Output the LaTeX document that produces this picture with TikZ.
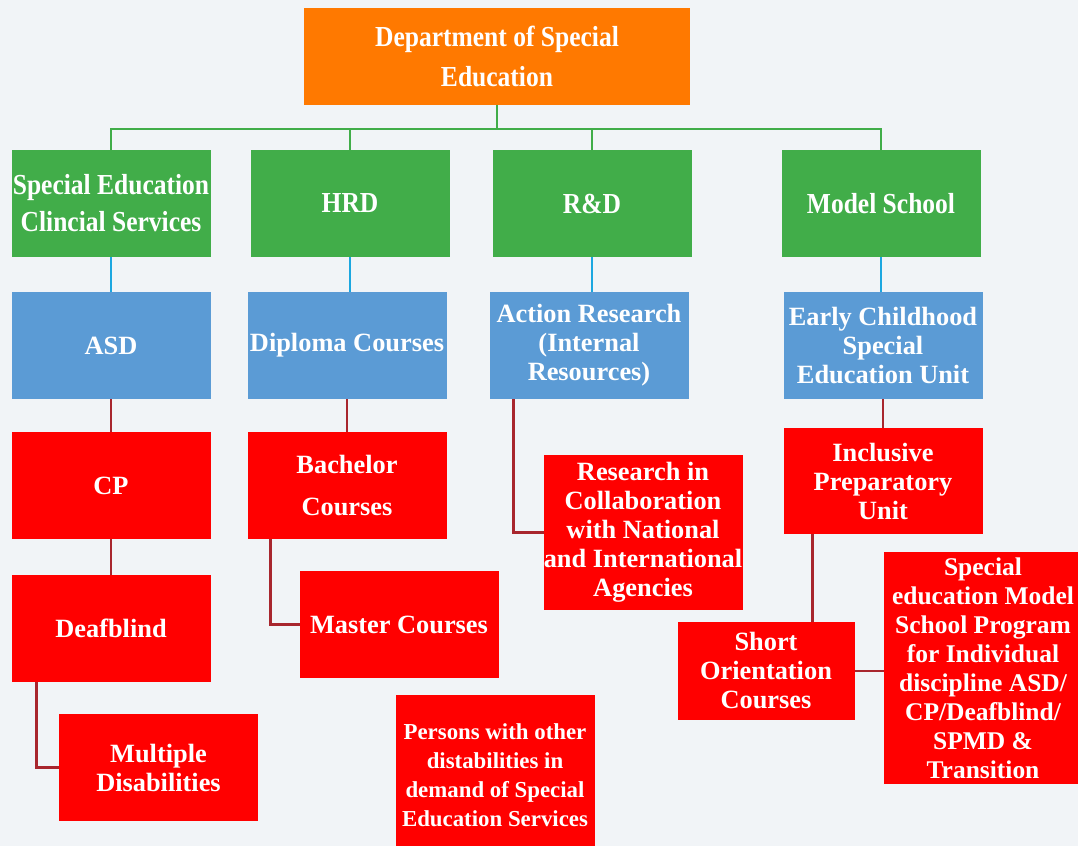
\documentclass[tikz,border=0pt]{standalone}
\usepackage{fontspec}
\setmainfont{Liberation Serif}
\newfontfamily\headfont[FakeStretch=0.88]{Liberation Serif}
\usepackage{tikz}
\usetikzlibrary{positioning}
\usetikzlibrary{calc}
\definecolor{se-bg}{HTML}{F1F4F7}
\definecolor{se-orange}{HTML}{FF7900}
\definecolor{se-green}{HTML}{41AD49}
\definecolor{se-blue}{HTML}{5B9BD5}
\definecolor{se-red}{HTML}{FF0000}
\definecolor{se-link}{HTML}{1CA7E0}
\definecolor{se-wine}{HTML}{A8262E}

\begin{document}
\begin{tikzpicture}[
    node distance=0.7cm and 0.8cm,
    font=\bfseries
  ]

  % Global Style Definitions
  \tikzset{
    head/.style={fill=se-orange, text=white, inner sep=0pt, outer sep=0pt, minimum width=7.72cm, minimum height=1.94cm, align=center, font=\headfont\bfseries\fontsize{16.5}{23}\selectfont},
    unit/.style={fill=se-green, text=white, inner sep=0pt, outer sep=0pt, minimum width=3.98cm, minimum height=2.14cm, align=center, font=\headfont\bfseries\fontsize{16.5}{21}\selectfont},
    sub/.style={fill=se-blue, text=white, inner sep=0pt, outer sep=0pt, minimum width=3.98cm, minimum height=2.14cm, align=center, font=\bfseries\fontsize{15}{16.5}\selectfont},
    leaf/.style={fill=se-red, text=white, inner sep=0pt, outer sep=0pt, minimum width=3.98cm, minimum height=2.14cm, align=center, font=\bfseries\fontsize{15}{16.5}\selectfont},
    greenline/.style={draw=se-green, line width=1.5pt},
    blueline/.style={draw=se-link, line width=1.2pt},
    redline/.style={draw=se-wine, line width=1.5pt}
  }

  % Page and background
  \useasboundingbox (0,0) rectangle (21.56,-16.92);
  \clip (0,0) rectangle (21.56,-16.92);
  \fill[se-bg] (0,0) rectangle (21.56,-16.92);

  % Department
  \node (dept) [head] at (9.94,-1.13) {Department of Special\\Education};

  % Units
  \node (sec) [unit] at (2.22,-4.07) {Special Education\\Clincial Services};
  \node (hrd) [unit, right=0.8cm of sec] {HRD};
  \node (rnd) [unit, right=0.86cm of hrd] {R\&D};
  \node (msch) [unit, right=1.8cm of rnd] {Model School};

  % Sections below the units
  \node (asd) [sub, below=of sec] {ASD};
  \node (dipl) [sub, below=of hrd, xshift=-0.06cm] {Diploma Courses};
  \node (actr) [sub, below=of rnd, xshift=-0.06cm] {Action Research\\(Internal\\Resources)};
  \node (ecse) [sub, below=of msch, xshift=0.04cm] {Early Childhood\\Special\\Education Unit};

  % Clinical services branch
  \node (cp) [leaf, below=0.66cm of asd] {CP};
  \node (dfb) [leaf, below=0.72cm of cp] {Deafblind};
  \node (mdis) [leaf, below=0.64cm of dfb, xshift=0.95cm] {Multiple\\Disabilities};

  % HRD branch
  \node (bach) [leaf, below=0.66cm of dipl] {Bachelor\\[0.26cm]Courses};
  \node (mast) [leaf, below=0.64cm of bach, xshift=1.04cm] {Master Courses};

  % R&D branch
  \node (resc) [leaf, minimum height=3.1cm, below=1.12cm of actr, xshift=1.08cm] {Research in\\Collaboration\\with National\\and International\\Agencies};

  % Model school branch
  \node (incl) [leaf, minimum height=2.12cm, below=0.58cm of ecse] {Inclusive\\Preparatory\\Unit};
  \node (shor) [leaf, minimum width=3.54cm, minimum height=1.96cm, below=1.76cm of incl, xshift=-2.34cm] {Short\\Orientation\\Courses};
  \node (sems) [leaf, minimum height=4.64cm, right=0.58cm of shor, yshift=0.06cm, font=\bfseries\fontsize{14.5}{16.5}\selectfont] {Special\\education Model\\School Program\\for Individual\\discipline ASD/\\CP/Deafblind/\\SPMD \&\\Transition};

  % Stand-alone box
  \node (pers) [leaf, minimum height=3.2cm, font=\bfseries\fontsize{13}{16.5}\selectfont] at (9.9,-15.5) {Persons with other\\distabilities in\\demand of Special\\Education Services};

  % Department to units
  \coordinate (bus) at (9.88,-2.58);
  \draw[greenline] (dept.south) -- (dept.south|-bus);
  \draw[greenline] (sec.north) |- (msch.north|-bus) -- (msch.north);
  \draw[greenline] (hrd.north) -- (hrd.north|-bus);
  \draw[greenline] (rnd.north) -- (rnd.north|-bus);

  % Units to sections
  \draw[blueline] (sec.south) -- (asd.north);
  \draw[blueline] (hrd.south) -- (hrd.south|-dipl.north);
  \draw[blueline] (rnd.south) -- (rnd.south|-actr.north);
  \draw[blueline] (msch.south) -- (msch.south|-ecse.north);

  % Sections to programmes
  \draw[redline] (asd.south) -- (cp.north);
  \draw[redline] (cp.south) -- (dfb.north);
  \draw[redline] ([xshift=0.5cm]dfb.south west) |- (mdis.west);
  \draw[redline] (dipl.south) -- (bach.north);
  \draw[redline] ([xshift=0.46cm]bach.south west) |- (mast.west);
  \draw[redline] ([xshift=0.48cm]actr.south west) |- (resc.west);
  \draw[redline] (ecse.south) -- (ecse.south|-incl.north);
  \coordinate (inclfoot) at ([xshift=0.58cm]incl.south west);
  \draw[redline] (inclfoot) -- (inclfoot|-shor.north);
  \draw[redline] (shor.east) -- (sems.west|-shor.east);

\end{tikzpicture}
\end{document}
